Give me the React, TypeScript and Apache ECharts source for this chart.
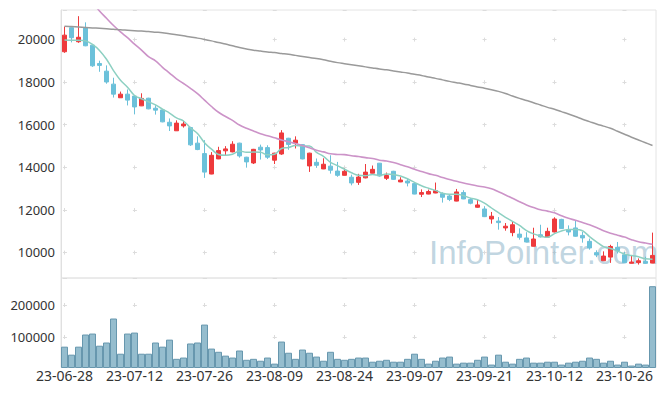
import React, { useEffect, useRef } from 'react';
import * as echarts from 'echarts';

const dates = [
  '23-06-28', '23-06-29', '23-06-30',
  '23-07-03', '23-07-04', '23-07-05', '23-07-06', '23-07-07', '23-07-10', '23-07-11', '23-07-12', '23-07-13', '23-07-14',
  '23-07-17', '23-07-18', '23-07-19', '23-07-20', '23-07-21', '23-07-24', '23-07-25', '23-07-26', '23-07-27', '23-07-28', '23-07-31',
  '23-08-01', '23-08-02', '23-08-03', '23-08-04', '23-08-07', '23-08-08', '23-08-09', '23-08-10', '23-08-11', '23-08-14', '23-08-16',
  '23-08-17', '23-08-18', '23-08-21', '23-08-22', '23-08-23', '23-08-24', '23-08-25', '23-08-28', '23-08-29', '23-08-30', '23-08-31',
  '23-09-01', '23-09-04', '23-09-05', '23-09-06', '23-09-07', '23-09-08', '23-09-11', '23-09-12', '23-09-13', '23-09-14', '23-09-15',
  '23-09-18', '23-09-19', '23-09-20', '23-09-21', '23-09-22', '23-09-25', '23-09-26', '23-09-27',
  '23-10-04', '23-10-05', '23-10-06', '23-10-10', '23-10-11', '23-10-12', '23-10-13', '23-10-16', '23-10-17', '23-10-18', '23-10-19',
  '23-10-20', '23-10-23', '23-10-24', '23-10-25', '23-10-26', '23-10-27', '23-10-30', '23-10-31',
  '23-11-01',
];

const openP = [
  19420, 20550, 19890, 20540, 19730, 18870, 18510, 17900, 17260, 17430,
  17340, 16880, 17240, 16770, 16690, 16110, 15710, 15940, 15860, 15130,
  14640, 13680, 14390, 14770, 14720, 15130, 14470, 14200, 14940, 14920,
  14330, 14620, 15360, 15130, 15060, 14060, 14230, 13920, 14050, 13820,
  13620, 13530, 13290, 13500, 13720, 14190, 13480, 13810, 13310, 13350,
  13230, 12730, 12740, 12790, 12760, 12650, 12410, 12810, 12480, 12120,
  12040, 11570, 11470, 11150, 10930, 10860, 10680, 10290, 10830, 10720,
  10960, 11550, 11070, 11150, 10800, 10520, 9990, 9610, 9780, 10240,
  9890, 9490, 9520, 9580, 9500,
];

const closeP = [
  20200, 20080, 20100, 19700, 18760, 18780, 18000, 17430, 17430, 17150,
  16830, 17230, 16740, 16680, 16130, 15940, 16070, 16030, 15050, 14830,
  13770, 14560, 14780, 14860, 15080, 14530, 14250, 14840, 14810, 14470,
  14660, 15610, 15070, 15270, 14390, 14660, 14090, 14140, 13860, 13620,
  13810, 13260, 13540, 13770, 13900, 13590, 13610, 13430, 13400, 13260,
  12740, 12810, 12860, 12900, 12590, 12490, 12840, 12510, 12310, 12230,
  11680, 11700, 11400, 11230, 11300, 10710, 10490, 10630, 10730, 10990,
  11570, 11120, 10960, 10760, 10680, 10210, 9880, 9830, 10280, 10080,
  9520, 9550, 9610, 9490, 9860,
];

const lowP = [
  19370, 19860, 19840, 19680, 18710, 18480, 17920, 17270, 17250, 16900,
  16480, 16870, 16720, 16470, 16110, 15700, 15700, 15860, 15000, 14800,
  13500, 13670, 14380, 14530, 14700, 14450, 13980, 14150, 14360, 14390,
  14150, 14580, 14820, 14880, 14370, 13780, 13970, 13910, 13700, 13550,
  13610, 13150, 13170, 13480, 13700, 13560, 13400, 13400, 13300, 13100,
  12730, 12600, 12730, 12780, 12340, 12410, 12400, 12500, 12260, 12100,
  11660, 11350, 11070, 11020, 10760, 10600, 10470, 10280, 10700, 10710,
  10940, 11100, 10800, 10740, 10460, 10130, 9780, 9600, 9510, 9950,
  9510, 9480, 9430, 9480, 9490,
];

const highP = [
  20600, 20560, 21090, 20800, 19740, 19000, 18780, 18200, 17550, 17650,
  17360, 17470, 17260, 16910, 16720, 16290, 16200, 16180, 15900, 15450,
  15270, 14710, 14960, 14990, 15220, 15150, 14490, 14860, 15060, 15030,
  14680, 15740, 15380, 15450, 15080, 14680, 14410, 14420, 14560, 14250,
  13940, 13650, 13690, 14150, 14080, 14200, 13750, 13830, 13530, 13450,
  13250, 12960, 12950, 13280, 12820, 12740, 12980, 12920, 12560, 12480,
  12170, 11900, 11660, 11380, 11460, 11130, 10950, 11160, 11300, 11160,
  11650, 11580, 11270, 11490, 10960, 10650, 10100, 10050, 10360, 10490,
  10020, 9830, 9720, 9800, 10930,
];

const volume = [
  71000, 46000, 71000, 109000, 112000, 74000, 84000, 159000, 49000, 112000,
  115000, 49000, 49000, 84000, 71000, 93000, 33000, 37000, 81000, 84000,
  140000, 65000, 55000, 43000, 37000, 59000, 30000, 33000, 27000, 37000,
  18000, 87000, 52000, 33000, 62000, 52000, 40000, 27000, 55000, 33000,
  30000, 33000, 37000, 37000, 24000, 27000, 30000, 24000, 24000, 33000,
  49000, 33000, 18000, 27000, 37000, 40000, 18000, 21000, 21000, 30000,
  40000, 15000, 46000, 24000, 18000, 33000, 37000, 21000, 21000, 24000,
  24000, 15000, 21000, 24000, 27000, 37000, 33000, 21000, 27000, 15000,
  24000, 12000, 18000, 15000, 260000,
];

const ma5 = [
  19970, 19960, 19960, 19930, 19768, 19484, 19068, 18534, 18080, 17758,
  17368, 17214, 17076, 16926, 16722, 16544, 16312, 16170, 15844, 15584,
  15150, 14848, 14598, 14560, 14610, 14762, 14700, 14712, 14702, 14580,
  14606, 14878, 14924, 15016, 15000, 15000, 14696, 14510, 14228, 14074,
  13904, 13738, 13618, 13600, 13656, 13612, 13682, 13660, 13586, 13458,
  13288, 13128, 13014, 12914, 12780, 12730, 12736, 12666, 12548, 12476,
  12314, 12086, 11864, 11648, 11462, 11268, 11026, 10872, 10772, 10710,
  10882, 11008, 11074, 11080, 11018, 10746, 10498, 10274, 10182, 10062,
  9922, 9856, 9802, 9700, 9684,
];

const ma20 = [
  null, null, null, null, 21750, 21330, 20990, 20650, 20350, 20080,
  19780, 19500, 19190, 18990, 18690, 18420, 18150, 17930, 17700, 17450,
  17150, 16850, 16580, 16380, 16200, 15980, 15830, 15700, 15570, 15480,
  15380, 15280, 15200, 15110, 15020, 14910, 14800, 14720, 14630, 14600,
  14590, 14540, 14500, 14450, 14410, 14330, 14290, 14220, 14120, 14020,
  13900, 13800, 13700, 13620, 13520, 13420, 13340, 13260, 13190, 13120,
  13070, 12990, 12850, 12700, 12540, 12380, 12230, 12110, 12000, 11940,
  11860, 11720, 11600, 11510, 11400, 11300, 11170, 11020, 10900, 10810,
  10720, 10600, 10500, 10440, 10380,
];

const ma60 = [
  20620, 20600, 20580, 20560, 20540, 20520, 20500, 20480, 20450, 20430,
  20410, 20390, 20370, 20340, 20310, 20260, 20220, 20170, 20110, 20060,
  20000, 19930, 19850, 19780, 19700, 19620, 19550, 19490, 19450, 19410,
  19380, 19340, 19300, 19250, 19200, 19150, 19100, 19040, 18970, 18910,
  18860, 18810, 18760, 18710, 18660, 18610, 18570, 18520, 18470, 18420,
  18360, 18310, 18230, 18170, 18100, 18030, 17970, 17910, 17840, 17770,
  17710, 17640, 17560, 17460, 17340, 17230, 17130, 17030, 16920, 16810,
  16720, 16610, 16500, 16380, 16250, 16140, 16030, 15930, 15830, 15690,
  15550, 15410, 15280, 15150, 15020,
];

const UP = '#ee3a3c';
const DOWN = '#6cc1da';
const CROSS = '#dcdcdc';
const LABEL_FONT = '"Noto Sans", sans-serif';

export default function App() {
  const ref = useRef<HTMLDivElement>(null);

  useEffect(() => {
    if (!ref.current) return;
    const chart = echarts.init(ref.current, undefined, { renderer: 'svg' });
    const candles = dates.map((_, i) => [openP[i], closeP[i], lowP[i], highP[i]]);

    chart.setOption({
      animation: false,
      backgroundColor: '#ffffff',
      grid: [
        { left: 61, right: 9, top: 10, height: 268, show: true, borderColor: '#e4e4e4', borderWidth: 1 },
        { left: 61, right: 9, top: 278, height: 89.5, show: true, borderColor: '#e4e4e4', borderWidth: 1 },
      ],
      graphic: [
        {
          type: 'text',
          left: 429,
          top: 236,
          z: 1,
          silent: true,
          style: {
            text: 'InfoPointer.com',
            fontSize: 33,
            fontFamily: '"Liberation Sans", Arial, sans-serif',
            fill: 'rgba(140,178,200,0.55)',
          },
        },
      ],
      xAxis: [
        {
          type: 'category',
          gridIndex: 0,
          data: dates,
          boundaryGap: true,
          axisLine: { show: false },
          axisTick: { show: false },
          axisLabel: { show: false },
          splitLine: {
            show: true,
            interval: 9,
            alignWithLabel: true,
            lineStyle: { color: CROSS, width: 1, type: [4, 38.6], dashOffset: 15.2 },
          },
        },
        {
          type: 'category',
          gridIndex: 1,
          data: dates,
          boundaryGap: true,
          axisLine: { show: false },
          axisTick: { show: false },
          axisLabel: { show: true, interval: 9, fontSize: 14, color: '#333', margin: 1, fontFamily: LABEL_FONT },
          splitLine: {
            show: true,
            interval: 9,
            alignWithLabel: true,
            lineStyle: { color: CROSS, width: 1, type: [4, 28], dashOffset: 6.6 },
          },
        },
      ],
      yAxis: [
        {
          type: 'value',
          gridIndex: 0,
          min: 8800,
          max: 21380,
          splitNumber: 6,
          axisLine: { show: true, lineStyle: { color: '#e0e0e0' } },
          axisTick: { show: false },
          axisLabel: {
            fontSize: 13,
            color: '#333',
            margin: 6,
            fontFamily: LABEL_FONT,
            formatter: (v: number) => (v % 2000 === 0 ? String(v) : ''),
          },
          splitLine: { show: true, lineStyle: { color: CROSS, width: 1, type: [4, 65.94], dashOffset: 68.44 } },
        },
        {
          type: 'value',
          gridIndex: 1,
          min: 5900,
          max: 285600,
          splitNumber: 3,
          axisLine: { show: true, lineStyle: { color: '#e0e0e0' } },
          axisTick: { show: false },
          axisLabel: {
            fontSize: 13,
            color: '#333',
            margin: 6,
            fontFamily: LABEL_FONT,
            formatter: (v: number) => (v % 100000 === 0 ? String(v) : ''),
          },
          splitLine: { show: true, lineStyle: { color: CROSS, width: 1, type: [4, 65.94], dashOffset: 68.44 } },
        },
      ],
      series: [
        {
          name: 'price',
          type: 'candlestick',
          xAxisIndex: 0,
          yAxisIndex: 0,
          data: candles,
          barWidth: '72%',
          itemStyle: { color: UP, color0: DOWN, borderColor: UP, borderColor0: DOWN, borderWidth: 1 },
          z: 3,
        },
        {
          name: 'MA5',
          type: 'line',
          xAxisIndex: 0,
          yAxisIndex: 0,
          data: ma5,
          smooth: 0.4,
          showSymbol: false,
          lineStyle: { color: '#8dd0c2', width: 1.5 },
          z: 4,
        },
        {
          name: 'MA20',
          type: 'line',
          xAxisIndex: 0,
          yAxisIndex: 0,
          data: ma20,
          smooth: 0.4,
          showSymbol: false,
          lineStyle: { color: '#cc93c8', width: 1.6 },
          z: 4,
        },
        {
          name: 'MA60',
          type: 'line',
          xAxisIndex: 0,
          yAxisIndex: 0,
          data: ma60,
          smooth: 0.4,
          showSymbol: false,
          lineStyle: { color: '#9a9a9a', width: 1.5 },
          z: 4,
        },
        {
          name: 'volume',
          type: 'bar',
          xAxisIndex: 1,
          yAxisIndex: 1,
          data: volume,
          barCategoryGap: '0%',
          itemStyle: { color: '#95bdce', borderColor: '#6797ae', borderWidth: 1 },
          z: 3,
        },
      ],
    });

    return () => chart.dispose();
  }, []);

  return (
    <div
      ref={ref}
      style={{ position: 'fixed', left: 0, top: 0, width: 665, height: 396, background: '#fff' }}
    />
  );
}
